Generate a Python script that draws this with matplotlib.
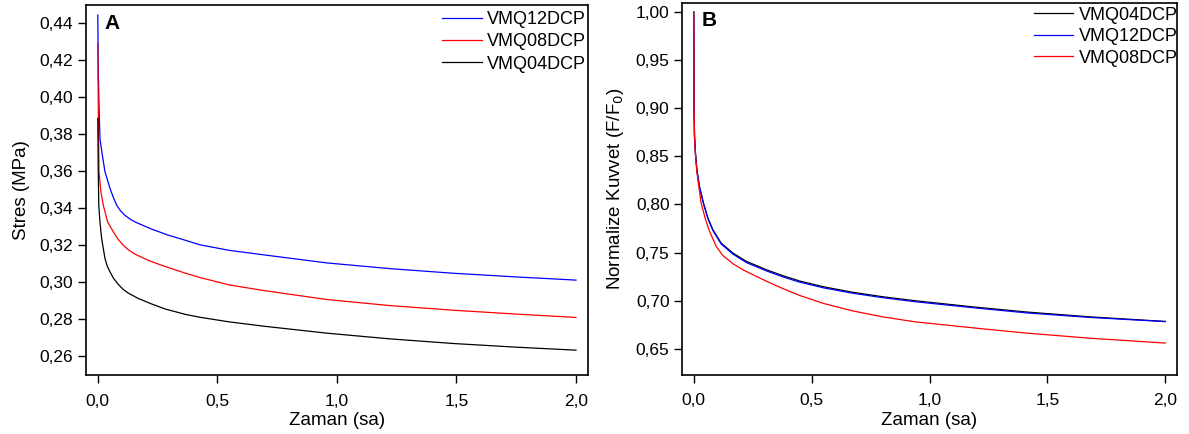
import numpy as np
import matplotlib
matplotlib.use("Agg")
import matplotlib.pyplot as plt
from matplotlib.ticker import FuncFormatter, MultipleLocator

plt.rcParams['font.family'] = ['Liberation Sans', 'DejaVu Sans']

# Panel A - stress relaxation
tA_blue = [0.0, 0.002, 0.005, 0.009, 0.019, 0.030, 0.051, 0.065, 0.079, 0.095, 0.113, 0.134, 0.155, 0.225, 0.295,
           0.365, 0.427, 0.55, 0.692, 0.958, 1.223, 1.488, 1.753, 2.0]
sA_blue = [0.4445, 0.4138, 0.3958, 0.3778, 0.3687, 0.3597, 0.3507, 0.3458, 0.3416, 0.3386, 0.3362, 0.3342, 0.3326,
           0.3287, 0.3254, 0.3227, 0.3202, 0.3172, 0.3148, 0.3104, 0.3073, 0.3048, 0.3028, 0.3011]

tA_red = [0.0, 0.002, 0.005, 0.013, 0.023, 0.041, 0.065, 0.085, 0.106, 0.13, 0.155, 0.211, 0.265, 0.323, 0.375,
          0.427, 0.55, 0.692, 0.958, 1.223, 1.488, 1.753, 2.0]
sA_red = [0.4292, 0.3958, 0.3597, 0.3489, 0.3416, 0.3326, 0.3272, 0.3232, 0.3200, 0.3173, 0.3152, 0.3118, 0.3092,
          0.3067, 0.3045, 0.3025, 0.2985, 0.2955, 0.2906, 0.2873, 0.2848, 0.2827, 0.2809]

tA_black = [0.0, 0.002, 0.004, 0.009, 0.016, 0.030, 0.040, 0.051, 0.065, 0.085, 0.105, 0.127, 0.169, 0.225, 0.281,
            0.365, 0.427, 0.55, 0.692, 0.958, 1.223, 1.488, 1.753, 2.0]
sA_black = [0.3886, 0.3597, 0.3416, 0.3326, 0.3236, 0.3128, 0.3085, 0.3056, 0.3022, 0.2989, 0.2962, 0.2941, 0.2912,
            0.2882, 0.2855, 0.2826, 0.2810, 0.2785, 0.2762, 0.2724, 0.2693, 0.2668, 0.2648, 0.2632]

# Panel B - normalized force F/F0
tB_black = [0.0, 0.001, 0.003, 0.007, 0.013, 0.024, 0.041, 0.060, 0.081, 0.116, 0.166, 0.223, 0.308,
            0.379, 0.449, 0.55, 0.669, 0.80, 0.938, 1.193, 1.415, 1.683, 2.0]
fB_black = [1.000, 0.9054, 0.8708, 0.8535, 0.8361, 0.8188, 0.8015, 0.7859, 0.7738, 0.7599, 0.7495, 0.7409, 0.7322,
            0.7259, 0.7205, 0.7145, 0.7090, 0.7042, 0.7000, 0.6934, 0.6882, 0.6832, 0.6785]

tB_blue = [0.0, 0.001, 0.003, 0.007, 0.013, 0.024, 0.041, 0.060, 0.081, 0.116, 0.166, 0.223, 0.308,
           0.379, 0.449, 0.55, 0.669, 0.80, 0.938, 1.193, 1.415, 1.683, 2.0]
fB_blue = [1.000, 0.9054, 0.8708, 0.8535, 0.8361, 0.8185, 0.8010, 0.7852, 0.7730, 0.7590, 0.7484, 0.7397, 0.7310,
           0.7247, 0.7193, 0.7134, 0.7080, 0.7032, 0.6990, 0.6925, 0.6873, 0.6826, 0.6783]

tB_red = [0.0, 0.001, 0.003, 0.007, 0.013, 0.031, 0.050, 0.067, 0.095, 0.123, 0.166, 0.208, 0.265,
          0.308, 0.379, 0.449, 0.55, 0.669, 0.80, 0.938, 1.193, 1.415, 1.683, 2.0]
fB_red = [1.000, 0.9054, 0.8708, 0.8520, 0.8340, 0.8015, 0.7842, 0.7720, 0.7565, 0.7470, 0.7385, 0.7322, 0.7253,
          0.7203, 0.7125, 0.7055, 0.6972, 0.6897, 0.6833, 0.6781, 0.6716, 0.6663, 0.6610, 0.6560]

lw = 0.9
fmt2 = FuncFormatter(lambda v, p: '{:.2f}'.format(v).replace('.', ','))
fmt1 = FuncFormatter(lambda v, p: '{:.1f}'.format(v).replace('.', ','))

fig = plt.figure(figsize=(11.89, 4.34), dpi=100)
ax1 = fig.add_axes([0.0722, 0.1348, 0.4223, 0.8544])
ax2 = fig.add_axes([0.5736, 0.1359, 0.4163, 0.8579])

# Panel A
ax1.plot(tA_blue, sA_blue, color='blue', lw=lw, label='VMQ12DCP')
ax1.plot(tA_red, sA_red, color='red', lw=lw, label='VMQ08DCP')
ax1.plot(tA_black, sA_black, color='black', lw=lw, label='VMQ04DCP')
ax1.set_xlim(-0.05, 2.05)
ax1.set_ylim(0.2495, 0.4501)
ax1.yaxis.set_major_locator(MultipleLocator(0.02))
ax1.yaxis.set_major_formatter(fmt2)
ax1.set_ylabel('Stres (MPa)', fontsize=13.5, labelpad=7)
ax1.text(0.038, 0.975, 'A', transform=ax1.transAxes, fontsize=15,
         fontweight='bold', ha='left', va='top')
ax1.legend(loc='upper right', bbox_to_anchor=(1.0, 0.988), frameon=False,
           fontsize=13, handlelength=2.2, handletextpad=0.3,
           labelspacing=0.3, borderaxespad=0.0, borderpad=0.1)

# Panel B
ax2.plot(tB_black, fB_black, color='black', lw=lw, label='VMQ04DCP')
ax2.plot(tB_blue, fB_blue, color='blue', lw=lw, label='VMQ12DCP')
ax2.plot(tB_red, fB_red, color='red', lw=lw, label='VMQ08DCP')
ax2.set_xlim(-0.05, 2.05)
ax2.set_ylim(0.6228, 1.0097)
ax2.yaxis.set_major_locator(MultipleLocator(0.05))
ax2.yaxis.set_major_formatter(fmt2)
ax2.set_ylabel('Normalize Kuvvet (F/F$_0$)', fontsize=13.5, labelpad=7)
ax2.text(0.040, 0.978, 'B', transform=ax2.transAxes, fontsize=15,
         fontweight='bold', ha='left', va='top')
ax2.legend(loc='upper right', bbox_to_anchor=(1.005, 0.994), frameon=False,
           fontsize=13, handlelength=2.2, handletextpad=0.3,
           labelspacing=0.25, borderaxespad=0.0, borderpad=0.1)

for ax in (ax1, ax2):
    ax.xaxis.set_major_locator(MultipleLocator(0.5))
    ax.xaxis.set_major_formatter(fmt1)
    ax.set_xlabel('Zaman (sa)', fontsize=13.5, labelpad=2.5)
    ax.tick_params(direction='out', length=6, width=1, labelsize=12.5)
    ax.tick_params(axis='x', pad=7)
    ax.tick_params(axis='y', pad=3)
    for s in ax.spines.values():
        s.set_linewidth(1.2)

plt.savefig('out.png', dpi=100)
